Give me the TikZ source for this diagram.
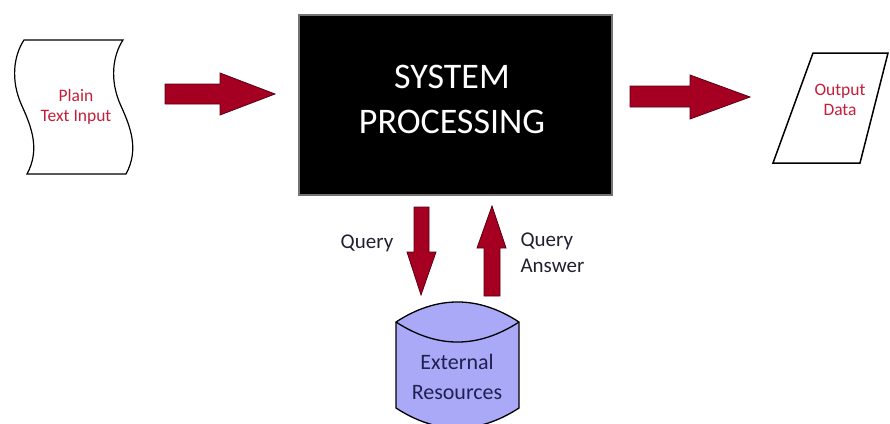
\documentclass[tikz,border=0pt]{standalone}
\usepackage{fontspec}
\setmainfont{Carlito}
\definecolor{arrowred}{HTML}{A50021}
\definecolor{arrowedge}{HTML}{5A0012}
\definecolor{labelred}{HTML}{C41E3A}
\definecolor{dbfill}{HTML}{A9A9F7}
\definecolor{dbtext}{HTML}{1F2050}
\definecolor{plaintext}{HTML}{202030}
\begin{document}
\begin{tikzpicture}[x=1pt,y=-1pt,
  blockarrow/.style={fill=arrowred,draw=arrowedge,line width=0.8pt,line join=miter},
  outline/.style={draw=black,line width=1.4pt,fill=white},
  iolabel/.style={text=labelred,align=center,font=\fontsize{17.5}{20.5}\selectfont},
  qlabel/.style={text=plaintext,font=\fontsize{21}{26}\selectfont},
]
\useasboundingbox (0,0) rectangle (890,423);
\clip (0,0) rectangle (890,423);

% punched tape: plain text input
\draw[outline,line width=1.2pt]
  (24,40) -- (123,40)
  .. controls (113,55) and (109,80) .. (121,106)
  .. controls (131,128) and (139,150) .. (126,174)
  -- (27,174)
  .. controls (40,150) and (32,128) .. (22,106)
  .. controls (10,80) and (14,55) .. (24,40) -- cycle;
\node[iolabel] (input) at (76,107) {Plain\\Text Input};

% central processing block
\draw[draw=black!55,line width=1.5pt,fill=black] (299,15) rectangle (612,195);
\node[text=white,align=center,font=\fontsize{36}{45}\selectfont] (system) at (452,99)
      {SYSTEM\\PROCESSING};

% output parallelogram
\draw[outline,line width=1.5pt] (813,53) -- (888,53) -- (860,163) -- (773,163) -- cycle;
\node[iolabel] (output) at (840,100) {Output\\Data};

% external resources cylinder
\draw[fill=dbfill,draw=black,line width=1.3pt]
  (396,322) .. controls (437,295.3) and (478,295.3) .. (519,322)
  -- (519,408) .. controls (478,434.7) and (437,434.7) .. (396,408) -- cycle;
\draw[black,line width=1.3pt]
  (396,322) .. controls (437,348.7) and (478,348.7) .. (519,322);
\node[text=dbtext,align=center,font=\fontsize{22}{30}\selectfont] (ext) at (457,377)
  {External\\Resources};

% fat flow arrows
\draw[blockarrow] (165,84) -- (220,84) -- (220,73) -- (275,94) -- (220,115) -- (220,104) -- (165,104) -- cycle;
\draw[blockarrow] (630,86) -- (690,86) -- (690,75) -- (750,97) -- (690,119) -- (690,107) -- (630,107) -- cycle;
\draw[blockarrow] (414,207) -- (429,207) -- (429,252) -- (436,252) -- (421,295) -- (407,252) -- (414,252) -- cycle;
\draw[blockarrow] (484,296) -- (500,296) -- (500,248) -- (506,248) -- (492,206) -- (477,248) -- (484,248) -- cycle;

% arrow captions
\node[qlabel] (query) at (367,243) {Query};
\node[qlabel,align=left,anchor=west] (answer) at (517,253) {Query\\Answer};
\end{tikzpicture}
\end{document}
